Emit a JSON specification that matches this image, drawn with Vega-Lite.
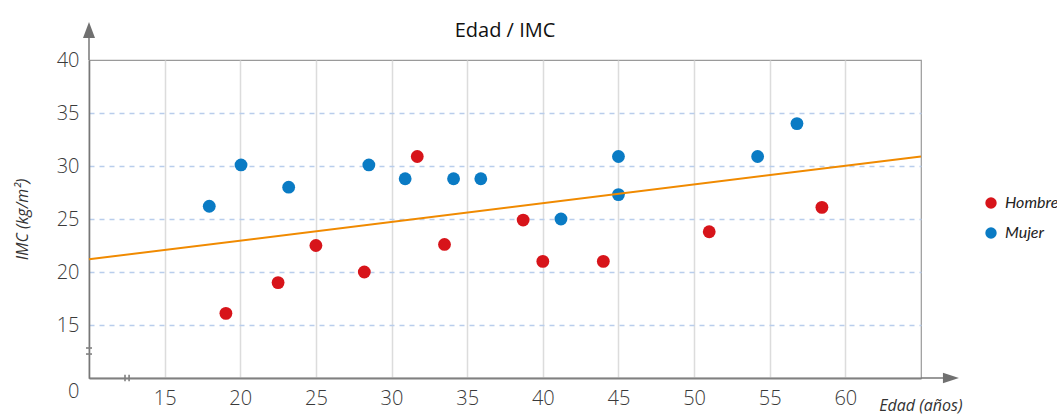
{
  "$schema": "https://vega.github.io/schema/vega-lite/v6.json",
  "width": 832,
  "height": 318,
  "autosize": {"type": "none"},
  "padding": {"left": 89, "top": 60, "right": 136, "bottom": 39},
  "background": "white",
  "title": {
    "text": "Edad / IMC",
    "font": "Open Sans",
    "fontSize": 20,
    "fontWeight": "normal",
    "color": "#111111",
    "anchor": "middle",
    "frame": "group",
    "baseline": "alphabetic",
    "offset": -35
  },
  "config": {
    "font": "Open Sans",
    "view": {"stroke": "#9a9a9a", "strokeWidth": 1.2}
  },
  "datasets": {
    "points": [
      {"edad": 19.05, "imc": 16.1, "sexo": "Hombre"},
      {"edad": 22.5, "imc": 19.0, "sexo": "Hombre"},
      {"edad": 25.0, "imc": 22.5, "sexo": "Hombre"},
      {"edad": 28.2, "imc": 20.0, "sexo": "Hombre"},
      {"edad": 31.7, "imc": 30.9, "sexo": "Hombre"},
      {"edad": 33.5, "imc": 22.6, "sexo": "Hombre"},
      {"edad": 38.7, "imc": 24.9, "sexo": "Hombre"},
      {"edad": 40.0, "imc": 21.0, "sexo": "Hombre"},
      {"edad": 44.0, "imc": 21.0, "sexo": "Hombre"},
      {"edad": 51.0, "imc": 23.8, "sexo": "Hombre"},
      {"edad": 58.45, "imc": 26.1, "sexo": "Hombre"},
      {"edad": 17.95, "imc": 26.2, "sexo": "Mujer"},
      {"edad": 20.05, "imc": 30.1, "sexo": "Mujer"},
      {"edad": 23.2, "imc": 28.0, "sexo": "Mujer"},
      {"edad": 28.5, "imc": 30.1, "sexo": "Mujer"},
      {"edad": 30.9, "imc": 28.8, "sexo": "Mujer"},
      {"edad": 34.1, "imc": 28.8, "sexo": "Mujer"},
      {"edad": 35.9, "imc": 28.8, "sexo": "Mujer"},
      {"edad": 41.2, "imc": 25.0, "sexo": "Mujer"},
      {"edad": 45.0, "imc": 30.9, "sexo": "Mujer"},
      {"edad": 45.0, "imc": 27.3, "sexo": "Mujer"},
      {"edad": 54.2, "imc": 30.9, "sexo": "Mujer"},
      {"edad": 56.8, "imc": 34.0, "sexo": "Mujer"}
    ],
    "trend": [
      {"edad": 10, "imc": 21.2},
      {"edad": 65, "imc": 30.9}
    ],
    "decor": [
      {"edad": 10, "imc": 40, "edad2": 10, "imc2": 42.2},
      {"edad": 65, "imc": 10, "edad2": 66.5, "imc2": 10},
      {"edad": 9.8, "imc": 12.26, "edad2": 10.2, "imc2": 12.26},
      {"edad": 9.8, "imc": 12.83, "edad2": 10.2, "imc2": 12.83},
      {"edad": 12.38, "imc": 9.7, "edad2": 12.38, "imc2": 10.3},
      {"edad": 12.65, "imc": 9.7, "edad2": 12.65, "imc2": 10.3}
    ],
    "arrowUp": [{"edad": 10, "imc": 42.83}],
    "arrowRight": [{"edad": 66.98, "imc": 10}]
  },
  "encoding": {
    "x": {
      "field": "edad",
      "type": "quantitative",
      "scale": {"domain": [10, 65], "nice": false, "zero": false},
      "axis": {
        "values": [15, 20, 25, 30, 35, 40, 45, 50, 55, 60],
        "title": "Edad (años)",
        "titleFont": "Open Sans",
        "titleFontStyle": "italic",
        "titleFontWeight": "normal",
        "titleFontSize": 16,
        "titleColor": "#333333",
        "titleX": 873,
        "titleY": 27,
        "titleAlign": "right",
        "titleBaseline": "middle",
        "titleAngle": 0,
        "labelFont": "Open Sans",
        "labelFontSize": 20,
        "labelFontWeight": 300,
        "labelColor": "#3a3a3a",
        "labelPadding": 10,
        "labelFlush": false,
        "labelOverlap": false,
        "ticks": false,
        "domainColor": "#808080",
        "domainWidth": 2,
        "grid": true,
        "gridColor": "#dcdcdc",
        "gridWidth": 1.5
      }
    },
    "y": {
      "field": "imc",
      "type": "quantitative",
      "scale": {"domain": [10, 40], "nice": false, "zero": false},
      "axis": {
        "values": [10, 15, 20, 25, 30, 35, 40],
        "labelExpr": "datum.value == 10 ? '0' : datum.label",
        "labelOffset": {"condition": {"test": "datum.value == 10", "value": 13}, "value": 0},
        "title": "IMC (kg/m²)",
        "titleFont": "Open Sans",
        "titleFontStyle": "italic",
        "titleFontWeight": "normal",
        "titleFontSize": 16,
        "titleColor": "#333333",
        "titleX": -67,
        "titleY": 159,
        "titleAngle": -90,
        "titleAlign": "center",
        "titleBaseline": "middle",
        "labelFont": "Open Sans",
        "labelFontSize": 20,
        "labelFontWeight": 300,
        "labelColor": "#3a3a3a",
        "labelPadding": 10,
        "labelFlush": false,
        "labelOverlap": false,
        "ticks": false,
        "domainColor": "#777777",
        "domainWidth": 1.6,
        "grid": true,
        "gridColor": "#b9cdec",
        "gridDash": [5, 5],
        "gridWidth": 1.3,
        "gridOpacity": {"condition": {"test": "datum.value == 10 || datum.value == 40", "value": 0}, "value": 1}
      }
    }
  },
  "layer": [
    {
      "data": {"name": "points"},
      "mark": {"type": "circle", "size": 165, "opacity": 1},
      "encoding": {
        "color": {
          "field": "sexo",
          "type": "nominal",
          "scale": {"domain": ["Hombre", "Mujer"], "range": ["#d7141a", "#0a7bc4"]},
          "legend": {
            "title": null,
            "orient": "none",
            "legendX": 894,
            "legendY": 135,
            "padding": 0,
            "symbolType": "circle",
            "symbolSize": 130,
            "symbolStrokeWidth": 0,
            "labelFont": "Lato",
            "labelFontStyle": "italic",
            "labelFontSize": 16,
            "labelColor": "#222222",
            "labelOffset": 6,
            "labelLimit": 200,
            "rowPadding": 14
          }
        }
      }
    },
    {
      "data": {"name": "trend"},
      "mark": {"type": "line", "color": "#f08a00", "strokeWidth": 2}
    },
    {
      "data": {"name": "decor"},
      "mark": {"type": "rule", "color": "#808080", "strokeWidth": 1.6},
      "encoding": {
        "x2": {"field": "edad2"},
        "y2": {"field": "imc2"}
      }
    },
    {
      "data": {"name": "arrowUp"},
      "mark": {"type": "point", "shape": "M0,-1L0.75,1L-0.75,1Z", "size": 256, "filled": true, "color": "#707070", "opacity": 1}
    },
    {
      "data": {"name": "arrowRight"},
      "mark": {"type": "point", "shape": "M1,0L-1,-0.65L-1,0.65Z", "size": 256, "filled": true, "color": "#707070", "opacity": 1}
    }
  ]
}
